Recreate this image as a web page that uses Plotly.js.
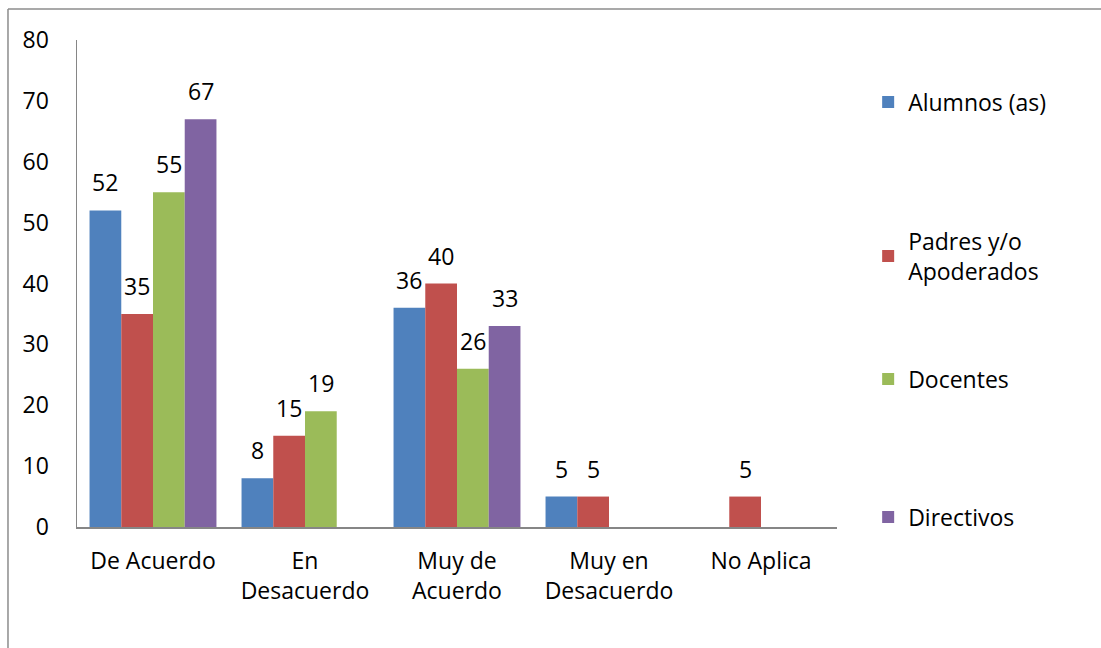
<!DOCTYPE html>
<html><head><meta charset="utf-8">
<script src="https://cdn.plot.ly/plotly-3.0.1.min.js"></script>
<style>html,body{margin:0;padding:0;background:#fff}#c{width:1101px;height:648px}</style>
</head><body><div id="c"></div>
<script>
const categories = ["De Acuerdo", "En<br>Desacuerdo", "Muy de<br>Acuerdo", "Muy en<br>Desacuerdo", "No Aplica"];
const seriesNames = ["Alumnos (as)", "Padres y/o<br>Apoderados", "Docentes", "Directivos"];
const alumnos = [52, 8, 36, 5, null];
const padres = [35, 15, 40, 5, 5];
const docentes = [55, 19, 26, null, null];
const directivos = [67, null, 33, null, null];
const colors = ["#4F81BD", "#C0504D", "#9BBB59", "#8064A2"];
const yTicks = [0, 10, 20, 30, 40, 50, 60, 70, 80];

const FONT = "Open Sans, sans-serif";
const FS = 23;
const allSeries = [alumnos, padres, docentes, directivos];
const legendNames = ["legend", "legend2", "legend3", "legend4"];
const legendY = [0.8727, 0.5565, 0.3039, 0.0205];

const traces = allSeries.map((vals, i) => ({
  type: "bar",
  name: seriesNames[i],
  x: categories,
  y: vals,
  marker: {color: colors[i], line: {width: 0}},
  legend: legendNames[i],
  hoverinfo: "none"
}));

// data labels as annotations, offset per series within the group
const slotPx = 760 / categories.length * (1 - 0.165) / allSeries.length;
const annotations = [];
allSeries.forEach((vals, i) => {
  vals.forEach((v, j) => {
    if (v == null) return;
    annotations.push({
      xref: "x", yref: "y", x: categories[j], y: v, text: String(v),
      showarrow: false, xanchor: "center", yanchor: "middle",
      xshift: (i - 1.5) * slotPx, yshift: 28,
      font: {family: FONT, size: FS, color: "#000"}
    });
  });
});

const layout = {
  width: 1101, height: 648,
  margin: {l: 77, r: 264, t: 40, b: 121},
  paper_bgcolor: "#fff", plot_bgcolor: "#fff",
  barmode: "group", bargap: 0.165, bargroupgap: 0,
  font: {family: FONT, size: FS, color: "#000"},
  showlegend: true,
  xaxis: {showline: true, linecolor: "#868686", linewidth: 1.5, ticks: "", showgrid: false,
    zeroline: false, tickfont: {family: FONT, size: FS, color: "#000"}, ticklabelstandoff: 13,
    fixedrange: true},
  yaxis: {range: [0, 80], tickvals: yTicks, ticktext: yTicks.map(String), showline: true,
    linecolor: "#868686", linewidth: 1.5, ticks: "", showgrid: false, zeroline: false,
    tickfont: {family: FONT, size: FS, color: "#000"}, ticklabelstandoff: 22, fixedrange: true},
  annotations: annotations,
  shapes: [
    {type: "line", xref: "paper", yref: "paper", x0: -0.0908, x1: 1.4, y0: 1.0637, y1: 1.0637,
      line: {color: "#8c8c8c", width: 1.5}},
    {type: "line", xref: "paper", yref: "paper", x0: -0.0908, x1: -0.0908, y0: -0.3, y1: 1.0637,
      line: {color: "#8c8c8c", width: 1.5}}
  ]
};
legendNames.forEach((ln, i) => {
  layout[ln] = {x: 1.041, xanchor: "left", y: legendY[i], yanchor: "middle",
    font: {family: FONT, size: FS, color: "#000"}, itemwidth: 30,
    bgcolor: "rgba(0,0,0,0)", borderwidth: 0};
});
Plotly.newPlot("c", traces, layout, {displayModeBar: false, staticPlot: true});
</script></body></html>
